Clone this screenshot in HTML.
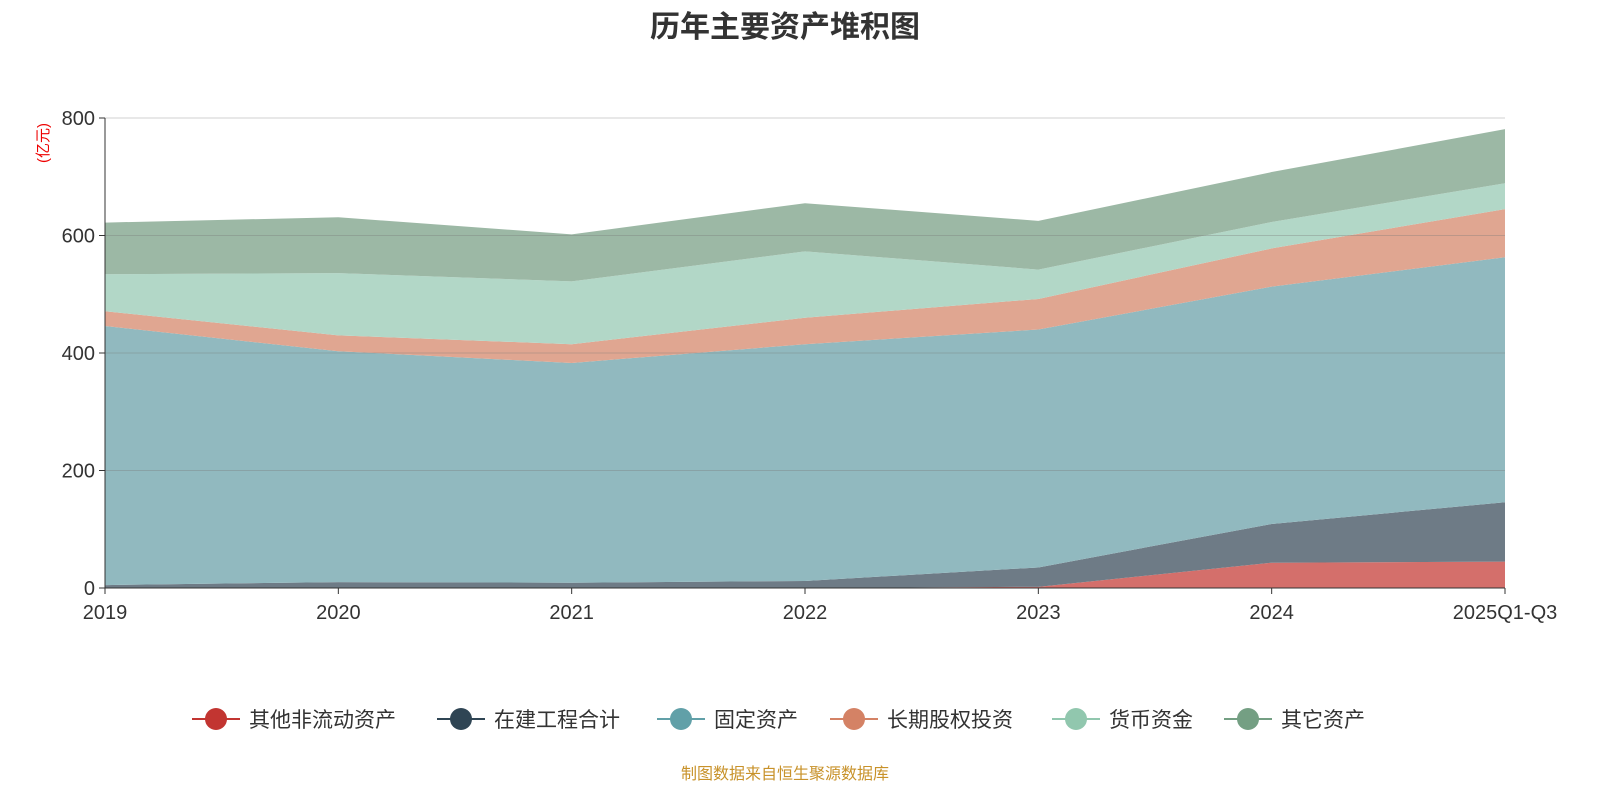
<!DOCTYPE html>
<html><head><meta charset="utf-8"><style>
body{margin:0;background:#fff;width:1600px;height:800px;overflow:hidden;font-family:"Liberation Sans","Noto Sans CJK SC",sans-serif}
</style></head><body>
<svg id="c" width="1600" height="800" xmlns="http://www.w3.org/2000/svg">
<text x="785" y="37" text-anchor="middle" font-size="30" font-weight="bold" fill="#333" font-family="Liberation Sans,Noto Sans CJK SC,sans-serif">历年主要资产堆积图</text>
<text transform="translate(48,143) rotate(-90)" text-anchor="middle" font-size="15" fill="#e00" font-family="Liberation Sans,Noto Sans CJK SC,sans-serif">(亿元)</text>
<g id="areas"></g><g id="axes"></g><g id="legend"></g>
<text x="785" y="779" text-anchor="middle" font-size="16" fill="#c8922a" font-family="Liberation Sans,Noto Sans CJK SC,sans-serif">制图数据来自恒生聚源数据库</text>
</svg>
<script>
const categories=["2019","2020","2021","2022","2023","2024","2025Q1-Q3"];
const seriesNames=["其他非流动资产","在建工程合计","固定资产","长期股权投资","货币资金","其它资产"];
const otherNonCurrent=[0,0,0,0,2,43,45];
const construction=[5,10,9,12,33,66,101];
const fixedAssets=[441,393,374,403,405,404,417];
const equityInvest=[25,27,32,45,52,65,82];
const cash=[63,106,107,113,50,45,44];
const otherAssets=[88,95,80,82,83,85,92];
const yTicks=[0,200,400,600,800];
const fills=["#d46f6b","#6e7b86","#91b9bf","#e0a691","#b2d7c7","#9cb8a5"];
const marks=["#c23531","#2f4554","#61a0a8","#d48265","#91c7ae","#749f83"];
const NS="http://www.w3.org/2000/svg";
const x0=105,x1=1505,y0=588,y1=118;
const X=i=>x0+i*(x1-x0)/(categories.length-1);
const Y=v=>y0-v/800*(y0-y1);
function mk(t,a,p){const e=document.createElementNS(NS,t);for(const k in a)e.setAttribute(k,a[k]);p.appendChild(e);return e;}
const data=[otherNonCurrent,construction,fixedAssets,equityInvest,cash,otherAssets];
const ag=document.getElementById('areas'),xg=document.getElementById('axes'),lg=document.getElementById('legend');
let base=categories.map(()=>0);
data.forEach((s,k)=>{
  const top=base.map((b,i)=>b+s[i]);
  let d="M"+top.map((v,i)=>X(i)+","+Y(v)).join(" L");
  for(let i=categories.length-1;i>=0;i--)d+=" L"+X(i)+","+Y(base[i]);
  const p=mk('path',{d:d+"Z",fill:fills[k]},ag);
  
  
  base=top;
});
yTicks.forEach(v=>{
  const l=mk('line',{x1:x0,x2:x1,y1:Y(v),y2:Y(v),stroke:v?"rgba(120,120,120,0.35)":"#333","stroke-width":1},xg);
  
  
  mk('line',{x1:x0-6,x2:x0,y1:Y(v),y2:Y(v),stroke:"#333"},xg);
  const t=mk('text',{x:x0-10,y:Y(v)+7,"text-anchor":"end","font-size":20,fill:"#333"},xg);
  t.textContent=v;
  
  
});
mk('line',{x1:x0,x2:x0,y1:y1,y2:y0,stroke:"#333"},xg);
categories.forEach((c,i)=>{
  mk('line',{x1:X(i),x2:X(i),y1:y0,y2:y0+6,stroke:"#333"},xg);
  const t=mk('text',{x:X(i),y:y0+31,"text-anchor":"middle","font-size":20,fill:"#333"},xg);
  t.textContent=c;
  
  
});
const lx=[192,437,657,830,1052,1224];
seriesNames.forEach((n,k)=>{
  const g=mk('g',{},lg);
  
  
  mk('line',{x1:lx[k],x2:lx[k]+48,y1:719,y2:719,stroke:marks[k],"stroke-width":2},g);
  mk('circle',{cx:lx[k]+24,cy:719,r:11,fill:marks[k]},g);
  const t=mk('text',{x:lx[k]+57,y:727,"font-size":21,fill:"#333"},g);
  t.textContent=n;
});
</script>
</body></html>
